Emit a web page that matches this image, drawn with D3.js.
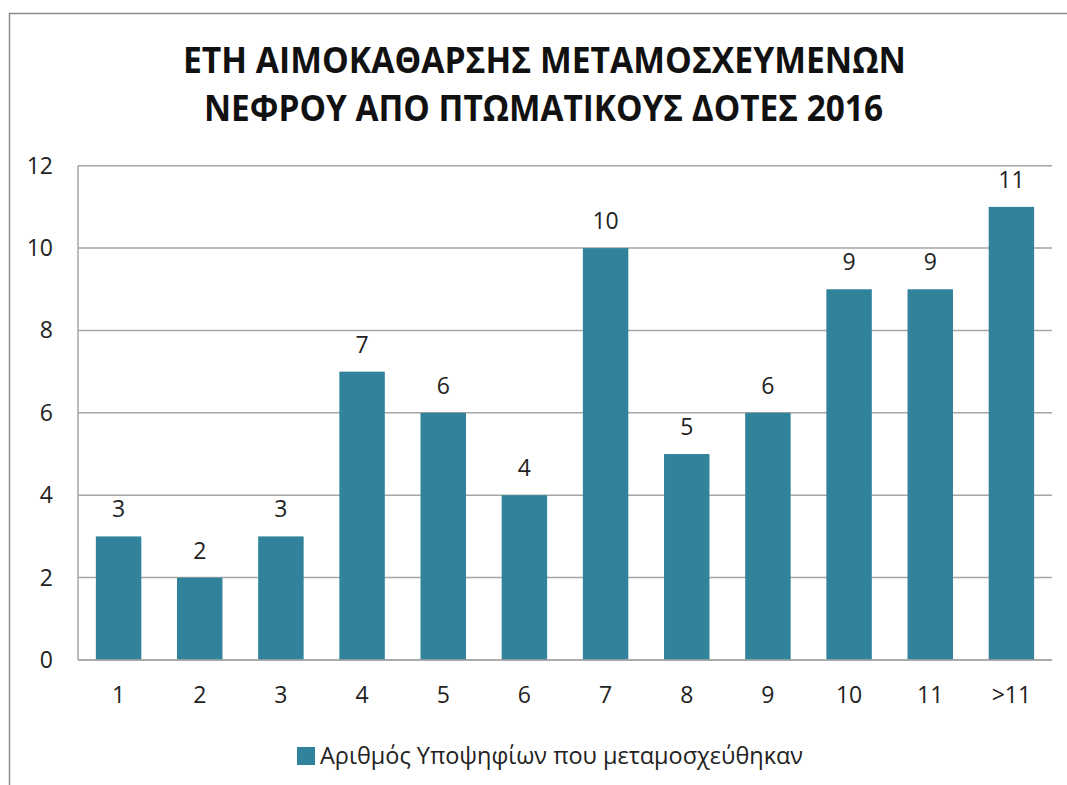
<!DOCTYPE html>
<html>
<head>
<meta charset="utf-8">
<script src="https://cdn.jsdelivr.net/npm/d3@7"></script>
<style>
  body { margin: 0; background: #fff; }
  text { font-family: "Open Sans", "DejaVu Sans", sans-serif; fill: #222; }
</style>
</head>
<body>
<svg id="chart" width="1067" height="785"></svg>
<script>
// chart data
var categories = ['1', '2', '3', '4', '5', '6', '7', '8', '9', '10', '11', '>11'];
var values = [3, 2, 3, 7, 6, 4, 10, 5, 6, 9, 9, 11];
var yTicks = [0, 2, 4, 6, 8, 10, 12];
var titleLines = ['ΕΤΗ ΑΙΜΟΚΑΘΑΡΣΗΣ ΜΕΤΑΜΟΣΧΕΥΜΕΝΩΝ', 'ΝΕΦΡΟΥ ΑΠΟ ΠΤΩΜΑΤΙΚΟΥΣ ΔΟΤΕΣ 2016'];
var seriesName = 'Αριθμός Υποψηφίων που μεταμοσχεύθηκαν';

(function() {
  var barColor = '#30839a';
  var gridColor = '#a6a6a6';

  var svg = d3.select('#chart');

  //outer chart frame (runs off the right and bottom edge)
  svg.append('path')
    .attr('d', 'M9.5,785V13.5H1067')
    .attr('fill', 'none')
    .attr('stroke', '#8c8c8c')
    .attr('stroke-width', 1.5);

  //title, squeezed a bit to look like the condensed original
  var titleSpec = [{x1: 183, x2: 906, y: 73}, {x1: 204, x2: 883, y: 121}];
  titleLines.forEach(function(t, i) {
    svg.append('text')
      .attr('x', titleSpec[i].x1)
      .attr('y', titleSpec[i].y)
      .attr('textLength', titleSpec[i].x2 - titleSpec[i].x1)
      .attr('lengthAdjust', 'spacingAndGlyphs')
      .style('font-size', '35px')
      .style('font-weight', 'bold')
      .style('fill', '#111')
      .text(t);
  });

  //plot area
  var plotLeft = 78, plotRight = 1052, plotTop = 165.7, plotBottom = 660;

  var x = d3.scaleBand()
    .domain(categories)
    .range([plotLeft, plotRight])
    .paddingInner(0.44)
    .paddingOuter(0.22);

  var y = d3.scaleLinear()
    .domain([0, 12])
    .range([plotBottom, plotTop]);

  //gridlines
  svg.append('g')
    .selectAll('line')
    .data(yTicks)
    .enter().append('line')
    .attr('x1', plotLeft).attr('x2', plotRight)
    .attr('y1', function(d) { return y(d); })
    .attr('y2', function(d) { return y(d); })
    .attr('stroke', gridColor)
    .attr('stroke-width', 1.5);

  //left axis line
  svg.append('line')
    .attr('x1', plotLeft).attr('x2', plotLeft)
    .attr('y1', plotTop).attr('y2', plotBottom)
    .attr('stroke', gridColor)
    .attr('stroke-width', 1.5);

  //y tick labels
  svg.append('g')
    .selectAll('text')
    .data(yTicks)
    .enter().append('text')
    .attr('x', 53)
    .attr('y', function(d) { return y(d) + 8; })
    .attr('text-anchor', 'end')
    .style('font-size', '23px')
    .text(function(d) { return d; });

  //bars
  svg.append('g')
    .selectAll('rect')
    .data(values)
    .enter().append('rect')
    .attr('x', function(d, i) { return x(categories[i]); })
    .attr('width', x.bandwidth())
    .attr('y', function(d) { return y(d); })
    .attr('height', function(d) { return y(0) - y(d); })
    .attr('fill', barColor);

  //redraw baseline over bars
  svg.append('line')
    .attr('x1', plotLeft).attr('x2', plotRight)
    .attr('y1', y(0)).attr('y2', y(0))
    .attr('stroke', gridColor)
    .attr('stroke-width', 1.5);

  //data labels
  svg.append('g')
    .selectAll('text')
    .data(values)
    .enter().append('text')
    .attr('x', function(d, i) { return x(categories[i]) + x.bandwidth() / 2; })
    .attr('y', function(d) { return y(d) - 19; })
    .attr('text-anchor', 'middle')
    .style('font-size', '23px')
    .text(function(d) { return d; });

  //x tick labels
  svg.append('g')
    .selectAll('text')
    .data(categories)
    .enter().append('text')
    .attr('x', function(d) { return x(d) + x.bandwidth() / 2; })
    .attr('y', 703)
    .attr('text-anchor', 'middle')
    .style('font-size', '23px')
    .text(function(d) { return d; });

  //legend
  svg.append('rect')
    .attr('x', 297).attr('y', 747)
    .attr('width', 18).attr('height', 18)
    .attr('fill', barColor);

  svg.append('text')
    .attr('x', 320)
    .attr('y', 764)
    .attr('textLength', 483)
    .attr('lengthAdjust', 'spacingAndGlyphs')
    .style('font-size', '23px')
    .text(seriesName);
})();
</script>
</body>
</html>
